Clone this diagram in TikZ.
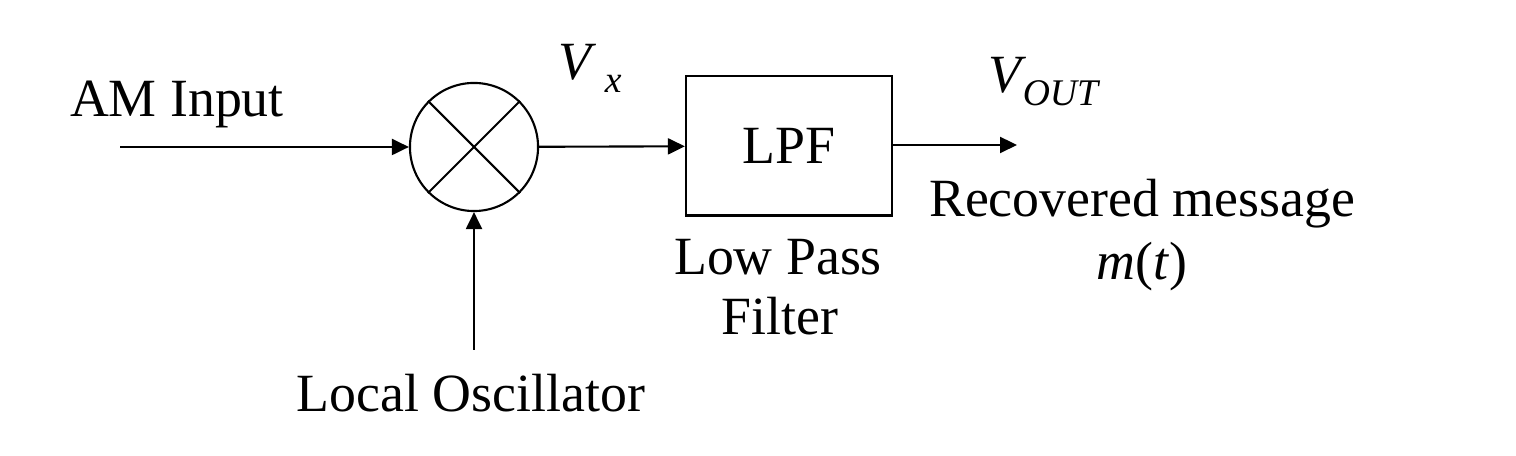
\documentclass[tikz,border=0pt]{standalone}
\usepackage{fontspec}
\setmainfont{Liberation Serif}
\usepackage{tikz}
\usetikzlibrary{arrows.meta}
\tikzstyle{Mixer}=[circle,draw,line width=0.6pt,inner sep=0pt,minimum size=1.28cm]
\tikzstyle{Block}=[rectangle,draw,line width=0.6pt,inner sep=0pt,minimum width=2.06cm,
minimum height=1.39cm]
\tikzstyle{Signal}=[line width=0.6pt,-{Triangle[length=0.17cm,width=0.16cm]}]
\tikzstyle{Label}=[inner sep=0pt,anchor=base]
\newcommand{\Sub}[1]{\raisebox{-0.13cm}{\fontsize{10.7}{11}\selectfont\itshape #1}}

\begin{document}
\begin{tikzpicture}[x=0.01cm,y=-0.01cm,font=\fontsize{15.3}{18}\selectfont]
        \useasboundingbox(0,0)rectangle(1516,456);
        \node[Mixer](mix)at(474,147){};
        \node[Block](lpf)at(789,146){LPF};
        \coordinate(in)at(120,147);
        \coordinate(lo)at(474,350);
        \coordinate(out)at(1017,145);
        \draw[line width=0.6pt](mix.north west)--(mix.south east);
        \draw[line width=0.6pt](mix.north east)--(mix.south west);
        \draw[Signal](in)--(mix);
        \draw[Signal](lo)--(mix);
        \draw[Signal](mix)--(lpf);
        \draw[Signal](lpf.east|-out)--(out);
        \node[Label](amin)at(177,117){AM Input};
        \node[Label,anchor=base west](vx)at(558,80){\textit{V}\kern0.08cm\Sub{x}};
        \node[Label,anchor=base west](vout)at(988,93){\textit{V}\kern-0.04cm\Sub{OUT}};
        \node[Label](lpfa)at(778,275){Low Pass};
        \node[Label](lpfb)at(780,335){Filter};
        \node[Label](rec)at(1142,217){Recovered message};
        \node[Label](mt)at(1142,280){\textit{m}(\textit{t})};
        \node[Label](losc)at(471,412){Local Oscillator};
    \end{tikzpicture}
\end{document}
